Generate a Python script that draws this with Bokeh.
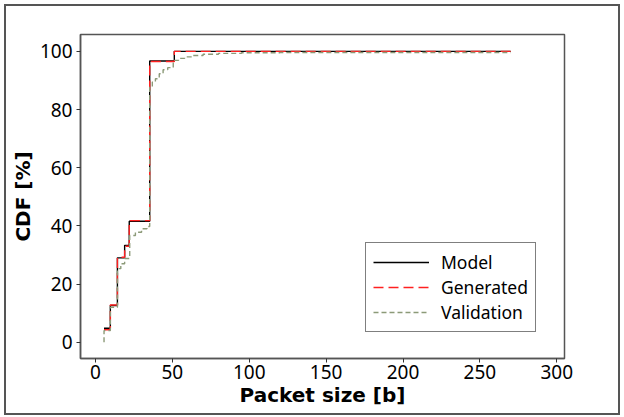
from bokeh.plotting import figure
from bokeh.models import Range1d, Legend, LegendItem, FixedTicker
from bokeh.embed import file_html
from bokeh.resources import INLINE

# ---- data ----
model_x = [5.6, 9.7, 14.3, 19.0, 22.0, 35.3, 51.3, 270.0]
model_y = [4.8, 12.6, 29.0, 33.3, 41.6, 96.7, 100.0, 100.0]

gen_x = [5.6, 9.7, 14.3, 19.0, 22.0, 35.3, 51.3, 270.0]
gen_y = [4.3, 12.8, 29.2, 33.0, 41.8, 96.5, 100.0, 100.0]

val_x = [5.6, 5.6, 9.7, 14.3, 16.5, 19.0, 22.3, 26.0, 30.0, 33.5, 35.3, 37.0, 39.0,
         41.5, 44.0, 47.0, 50.6, 54.0, 58.0, 63.0, 70.0, 80.0, 95.0, 120.0, 270.0]
val_y = [0.0, 4.0, 12.0, 25.3, 27.0, 28.8, 36.7, 37.8, 39.0, 39.8, 87.7, 89.5, 90.6,
         92.3, 93.7, 94.4, 96.9, 97.6, 98.1, 98.6, 99.0, 99.3, 99.5, 99.6, 99.6]

x_ticks = [0, 50, 100, 150, 200, 250, 300]
y_ticks = [0, 20, 40, 60, 80, 100]

FONT = "Noto Sans"
TITLE_FONT = "DejaVu Sans"

W, H = 616, 411
p = figure(width=W, height=H, output_backend="svg", toolbar_location=None,
           x_range=Range1d(-9.7, 305), y_range=Range1d(-5.6, 105.8),
           min_border_left=74, min_border_top=28, min_border_right=58, min_border_bottom=59)

# outer border around the whole figure
p.styles = {"border": "2px solid #555555", "box-sizing": "border-box",
            "margin-left": "4px", "margin-top": "4px"}

p.xgrid.visible = False
p.ygrid.visible = False
p.outline_line_color = "#555555"
p.outline_line_width = 1.5
p.background_fill_color = "white"
p.border_fill_color = "white"

for ax, ticks in ((p.xaxis, x_ticks), (p.yaxis, y_ticks)):
    ax.ticker = FixedTicker(ticks=ticks)
    ax.minor_tick_line_color = None
    ax.major_tick_in = 0
    ax.major_tick_out = 4
    ax.major_tick_line_color = "#333333"
    ax.axis_line_color = "#555555"
    ax.axis_line_width = 1.5
    ax.major_label_text_font = FONT
    ax.major_label_text_font_size = "19px"
    ax.major_label_text_color = "black"
    ax.axis_label_text_font = TITLE_FONT
    ax.axis_label_text_font_size = "20px"
    ax.axis_label_text_font_style = "bold"
    ax.axis_label_text_color = "black"

p.xaxis.major_label_standoff = 2
p.xaxis.axis_label_standoff = 1
p.yaxis.major_label_standoff = 4
p.yaxis.axis_label_standoff = 2

p.xaxis.axis_label = "Packet size [b]"
p.yaxis.axis_label = "CDF [%]"

r_model = p.step(model_x, model_y, mode="after", line_color="black", line_width=1.4)
r_gen = p.step(gen_x, gen_y, mode="after", line_color="#ff2020", line_width=1.4,
               line_dash="10 5")
r_val = p.step(val_x, val_y, mode="after", line_color="#8c9a78", line_width=1.4,
               line_dash="5 3")

legend = Legend(items=[LegendItem(label="Model", renderers=[r_model]),
                       LegendItem(label="Generated", renderers=[r_gen]),
                       LegendItem(label="Validation", renderers=[r_val])],
                location=(285, 26))
legend.label_text_font = FONT
legend.label_text_font_size = "17.5px"
legend.label_text_color = "black"
legend.glyph_width = 56
legend.glyph_height = 20
legend.label_height = 20
legend.label_standoff = 12
legend.spacing = 1
legend.padding = 7
legend.margin = 0
legend.border_line_color = "black"
legend.border_line_width = 1.2
legend.background_fill_color = "white"
legend.background_fill_alpha = 1.0
p.add_layout(legend)

open("out.html", "w").write(file_html(p, INLINE))
